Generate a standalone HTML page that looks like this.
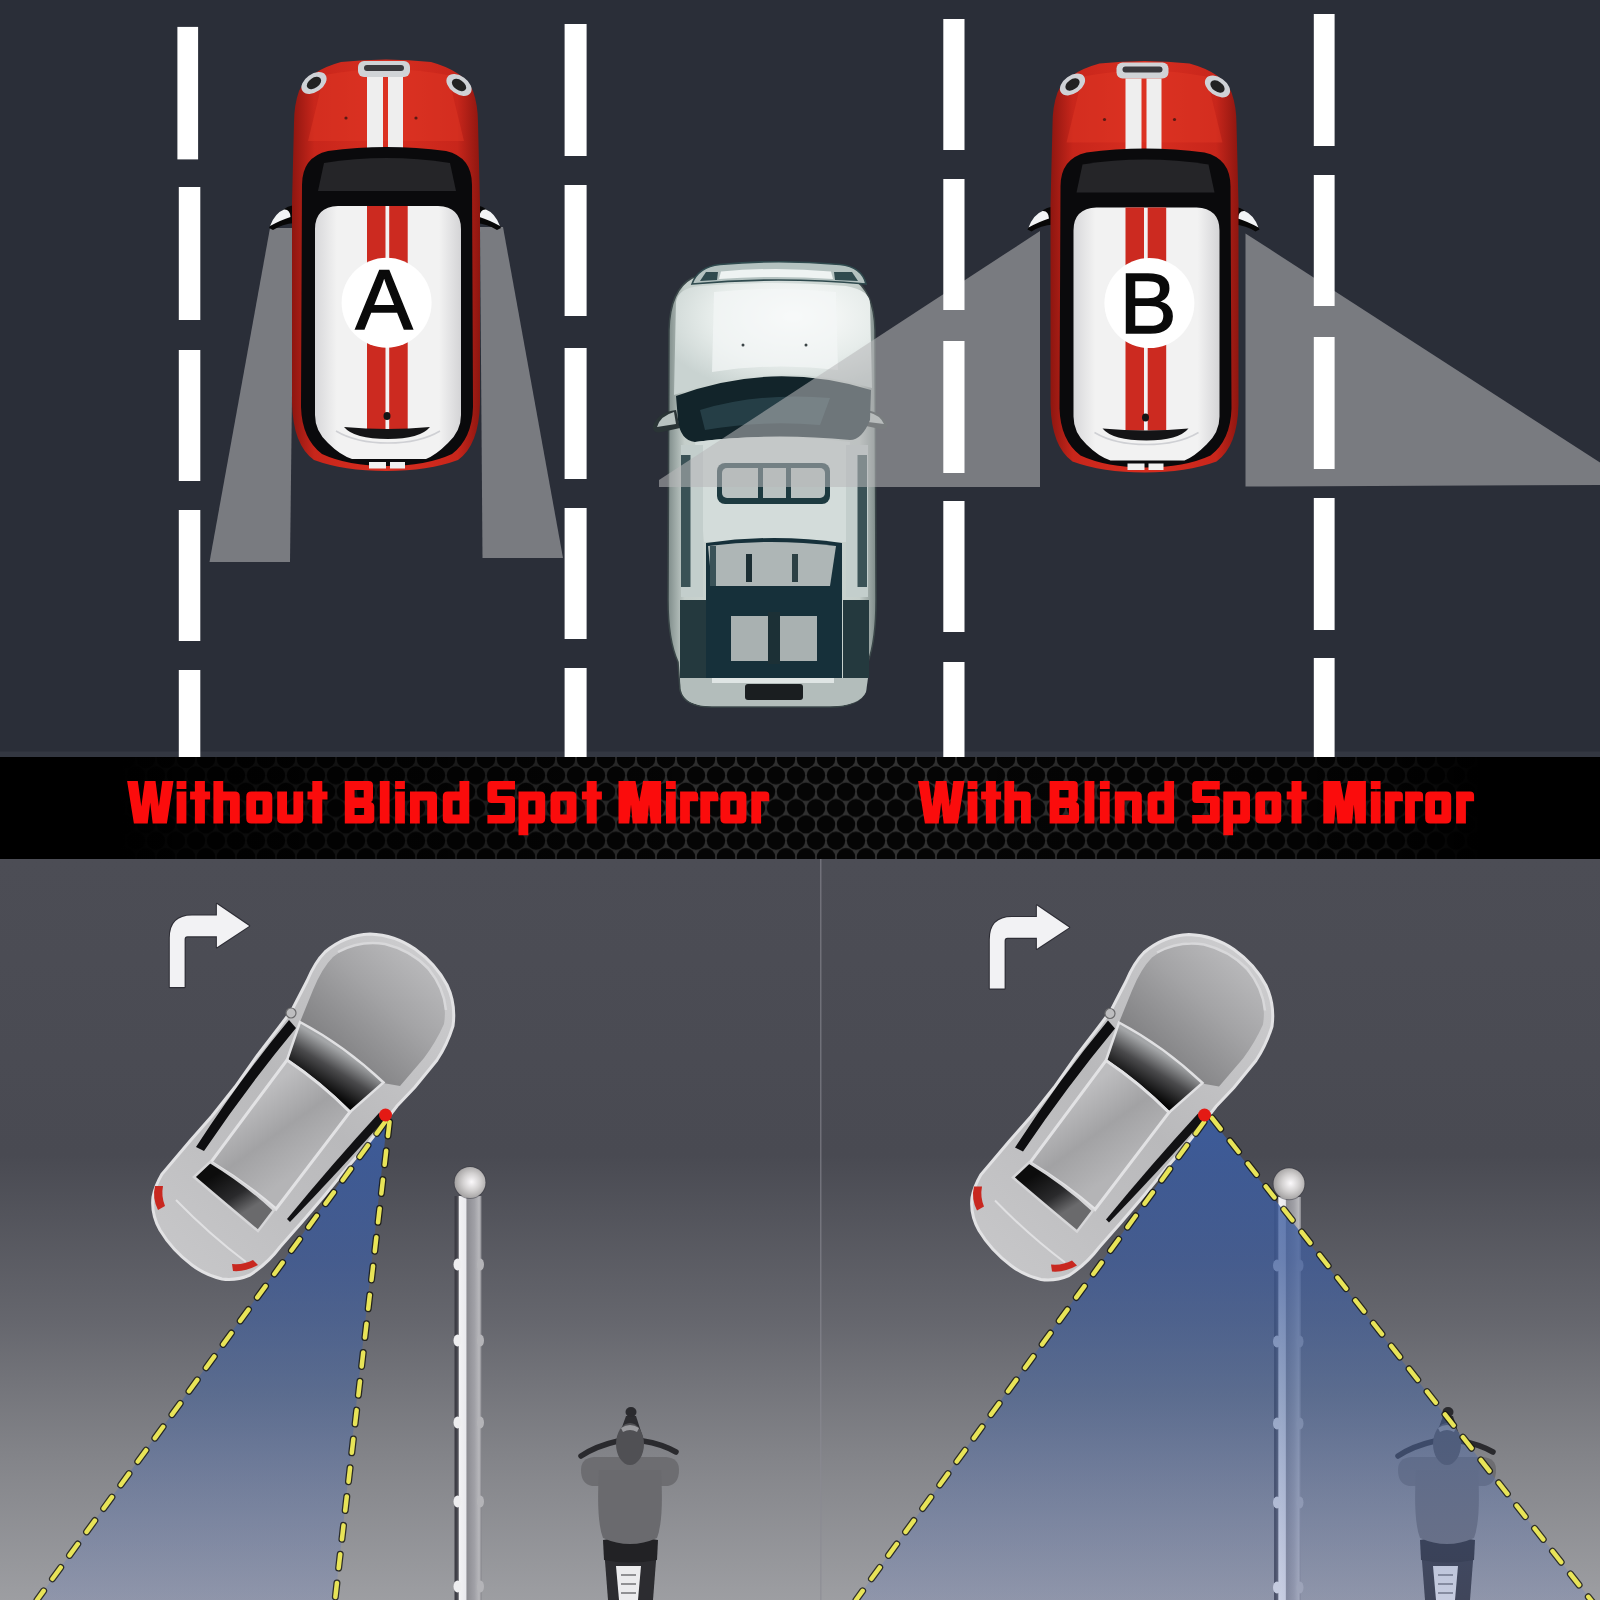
<!DOCTYPE html>
<html><head><meta charset="utf-8"><title>Blind Spot Mirror</title>
<style>
html,body{margin:0;padding:0;background:#2a2e38;width:1600px;height:1600px;overflow:hidden;}
svg{display:block;}
.t{font-family:"Liberation Sans",sans-serif;font-weight:bold;fill:#ff0d0d;}
.l{font-family:"Liberation Sans",sans-serif;}
</style></head><body>
<svg width="1600" height="1600" viewBox="0 0 1600 1600">
<defs>
  <linearGradient id="bg2" x1="0" y1="859" x2="0" y2="1600" gradientUnits="userSpaceOnUse">
    <stop offset="0" stop-color="#4c4d55"/>
    <stop offset="0.40" stop-color="#494a52"/>
    <stop offset="0.62" stop-color="#65666d"/>
    <stop offset="0.80" stop-color="#828388"/>
    <stop offset="1" stop-color="#9d9ea2"/>
  </linearGradient>
  <pattern id="hex" x="-4" y="759" width="20" height="32.7" patternUnits="userSpaceOnUse">
    <rect width="20" height="32.7" fill="#323232"/>
    <circle cx="10" cy="0" r="9.25" fill="#050505"/>
    <circle cx="0" cy="16.35" r="9.25" fill="#050505"/>
    <circle cx="20" cy="16.35" r="9.25" fill="#050505"/>
    <circle cx="10" cy="32.7" r="9.25" fill="#050505"/>
  </pattern>
  <linearGradient id="bfade" x1="0" x2="1600" y1="0" y2="0" gradientUnits="userSpaceOnUse">
    <stop offset="0" stop-color="#000" stop-opacity="1"/>
    <stop offset="0.075" stop-color="#000" stop-opacity="1"/>
    <stop offset="0.14" stop-color="#000" stop-opacity="0.8"/>
    <stop offset="0.28" stop-color="#000" stop-opacity="0.5"/>
    <stop offset="0.42" stop-color="#000" stop-opacity="0.1"/>
    <stop offset="0.56" stop-color="#000" stop-opacity="0.0"/>
    <stop offset="0.75" stop-color="#000" stop-opacity="0.3"/>
    <stop offset="0.86" stop-color="#000" stop-opacity="0.6"/>
    <stop offset="0.925" stop-color="#000" stop-opacity="1"/>
    <stop offset="1" stop-color="#000" stop-opacity="1"/>
  </linearGradient>
  <linearGradient id="fadeL" x1="0" x2="1">
    <stop offset="0" stop-color="#000" stop-opacity="1"/>
    <stop offset="1" stop-color="#000" stop-opacity="0"/>
  </linearGradient>
  <linearGradient id="fadeR" x1="0" x2="1">
    <stop offset="0" stop-color="#000" stop-opacity="0"/>
    <stop offset="1" stop-color="#000" stop-opacity="1"/>
  </linearGradient>

  <linearGradient id="redg" x1="0" x2="1" y1="0" y2="0">
    <stop offset="0" stop-color="#8e1610"/>
    <stop offset="0.12" stop-color="#c8261b"/>
    <stop offset="0.5" stop-color="#d82e20"/>
    <stop offset="0.88" stop-color="#c8261b"/>
    <stop offset="1" stop-color="#8e1610"/>
  </linearGradient>
  <linearGradient id="roofg" x1="0" x2="1" y1="0" y2="0">
    <stop offset="0" stop-color="#d8d8da"/>
    <stop offset="0.15" stop-color="#f2f2f2"/>
    <stop offset="0.85" stop-color="#f2f2f2"/>
    <stop offset="1" stop-color="#d4d4d6"/>
  </linearGradient>
  <g id="mini">
    <!-- mirrors -->
    <g id="mmir">
      <path d="M -91,-98 Q -99,-97 -103,-93 Q -112,-86 -117,-75 L -113,-73 Q -104,-79 -91,-80 Z" fill="#070707"/>
      <path d="M -116,-77 Q -111,-90 -102,-93.5 Q -96,-94 -95.5,-86 Q -105,-83 -116,-77 Z" fill="#f2f4f6"/>
    </g>
    <use href="#mmir" transform="translate(-2,0) scale(-1,1)"/>
    <!-- body -->
    <path d="M -45,-241 Q 0,-246 45,-241 Q 78,-232 87,-212 Q 92,-198 92,-180 L 94,-100 L 94,100 Q 93,142 72,157 Q 42,168 0,168 Q -42,168 -72,157 Q -93,142 -94,100 L -94,-100 L -92,-180 Q -92,-198 -87,-212 Q -78,-232 -45,-241 Z" fill="url(#redg)"/>
    <!-- hood highlight -->
    <path d="M -62,-228 Q 0,-240 62,-228 L 78,-162 L -78,-162 Z" fill="#e03524" opacity="0.5"/>
    <!-- headlights -->
    <ellipse cx="-72" cy="-220" rx="14" ry="9" fill="#cfd2d6" transform="rotate(-35 -72 -220)"/>
    <ellipse cx="-72" cy="-220" rx="8" ry="5" fill="#222" transform="rotate(-35 -72 -220)"/>
    <ellipse cx="73" cy="-218" rx="14" ry="9" fill="#cfd2d6" transform="rotate(35 73 -218)"/>
    <ellipse cx="73" cy="-218" rx="8" ry="5" fill="#222" transform="rotate(35 73 -218)"/>
    <!-- front grille -->
    <rect x="-28" y="-242" width="52" height="16" rx="6" fill="#d0d3d6"/>
    <rect x="-22" y="-238" width="40" height="6" rx="3" fill="#3a3a3e"/>
    <!-- hood stripes -->
    <rect x="-19" y="-226" width="16" height="75" fill="#eeeeee"/>
    <rect x="2" y="-226" width="15" height="75" fill="#eeeeee"/>
    <circle cx="-40" cy="-185" r="1.6" fill="#5a1a14"/>
    <circle cx="30" cy="-185" r="1.6" fill="#5a1a14"/>
    <!-- black glass frame -->
    <path d="M -84,-118 Q -84,-146 -58,-152 Q 0,-160 60,-152 Q 86,-146 86,-118 L 87,104 Q 86,136 66,151 Q 40,163 1,163 Q -38,163 -64,151 Q -84,136 -85,104 Z" fill="#0a0a0c"/>
    <path d="M -62,-140 Q 0,-150 64,-140 L 70,-112 L -68,-112 Z" fill="#252528"/>
    <!-- white roof -->
    <path d="M -71,-74 Q -71,-96 -48,-97 L 52,-97 Q 75,-96 75,-74 L 75,112 Q 75,128 62,140 Q 50,152 40,156 L -34,156 Q -46,152 -58,140 Q -71,128 -71,112 Z" fill="url(#roofg)"/>
    <!-- roof stripes -->
    <rect x="-19" y="-97" width="18.5" height="223" fill="#cc2a20"/>
    <rect x="3.2" y="-97" width="18.5" height="223" fill="#cc2a20"/>
    <!-- rear spoiler arc -->
    <path d="M -42,124 Q 2,128 44,124 Q 34,136 2,136 Q -32,136 -42,124 Z" fill="#141416"/>
    <path d="M -50,128 Q -30,140 2,140 Q 34,140 54,128" fill="none" stroke="#cfd0d4" stroke-width="1.5"/>
    <ellipse cx="1" cy="113" rx="3.5" ry="4" fill="#151515"/>
    <!-- rear white stripe ends -->
    <rect x="-17" y="159" width="17" height="6.5" fill="#f0f0f0"/>
    <rect x="4" y="159" width="15" height="6.5" fill="#f0f0f0"/>
  </g>

  <linearGradient id="bodyg" x1="150" y1="1270" x2="455" y2="935" gradientUnits="userSpaceOnUse">
    <stop offset="0" stop-color="#c8c8ca"/><stop offset="0.5" stop-color="#b9b9bb"/><stop offset="1" stop-color="#cfcfd1"/>
  </linearGradient>
  <linearGradient id="hoodg2" x1="330" y1="1060" x2="420" y2="960" gradientUnits="userSpaceOnUse">
    <stop offset="0" stop-color="#7e7e80"/><stop offset="0.6" stop-color="#a4a4a6"/><stop offset="1" stop-color="#b8b8ba"/>
  </linearGradient>
  <linearGradient id="wsg" x1="320" y1="1088" x2="342" y2="1052" gradientUnits="userSpaceOnUse">
    <stop offset="0" stop-color="#050505"/><stop offset="0.55" stop-color="#4a4a4c"/><stop offset="1" stop-color="#a4a6a8"/>
  </linearGradient>
  <linearGradient id="roofg2" x1="250" y1="1100" x2="300" y2="1170" gradientUnits="userSpaceOnUse">
    <stop offset="0" stop-color="#bdbdbf"/><stop offset="0.5" stop-color="#a2a2a4"/><stop offset="1" stop-color="#b4b4b6"/>
  </linearGradient>
  <linearGradient id="rwg" x1="215" y1="1175" x2="240" y2="1215" gradientUnits="userSpaceOnUse">
    <stop offset="0" stop-color="#0c0c0c"/><stop offset="0.6" stop-color="#2a2a2c"/><stop offset="1" stop-color="#6a6a6c"/>
  </linearGradient>
  <linearGradient id="coneg" x1="0" y1="1114" x2="0" y2="1600" gradientUnits="userSpaceOnUse">
    <stop offset="0" stop-color="#3a5ea6" stop-opacity="0.85"/>
    <stop offset="0.3" stop-color="#3e5c9c" stop-opacity="0.75"/>
    <stop offset="0.58" stop-color="#46649e" stop-opacity="0.55"/>
    <stop offset="1" stop-color="#6e82be" stop-opacity="0.3"/>
  </linearGradient>
  <linearGradient id="poleg" x1="453" x2="483.5" y1="0" y2="0" gradientUnits="userSpaceOnUse">
    <stop offset="0" stop-color="#3c3c44"/><stop offset="0.1" stop-color="#3c3c44"/><stop offset="0.17" stop-color="#55555c"/><stop offset="0.21" stop-color="#f2f2f4"/><stop offset="0.42" stop-color="#eaeaee"/><stop offset="0.46" stop-color="#8c8c92"/><stop offset="0.7" stop-color="#a0a0a6"/><stop offset="0.86" stop-color="#b8b8bc"/><stop offset="1" stop-color="#5a5a62"/>
  </linearGradient>
  <radialGradient id="ballg" cx="0.55" cy="0.48" r="0.6">
    <stop offset="0" stop-color="#fbf9fb"/><stop offset="0.45" stop-color="#d4d2d2"/><stop offset="1" stop-color="#9a9898"/>
  </radialGradient>
  <g id="bcar">
    <!-- outer body -->
    <path d="M 325,952 Q 345,935 370,934 Q 395,935 415,949 Q 436,964 447,985 Q 456,1004 453,1026 Q 447,1045 437,1060 L 415,1087 L 397,1106 L 370,1141 L 347,1168 L 325,1195 L 302,1222 L 280,1247 Q 268,1263 250,1275 Q 236,1281 222,1279 Q 205,1275 192,1265 Q 172,1250 160,1230 Q 151,1214 153,1197 Q 155,1186 162,1174 L 190,1141 L 212,1116 L 235,1087 L 257,1056 L 280,1026 L 292,1010 L 307,981 Q 315,962 325,952 Z" fill="url(#bodyg)" stroke="#e2e2e4" stroke-width="3"/>
    <!-- hood -->
    <path d="M 333,957 Q 350,943 371,942 Q 394,943 412,956 Q 430,969 440,988 Q 447,1005 444,1024 Q 436,1042 424,1058 L 400,1086 L 383,1083 Q 345,1048 300,1022 L 313,990 Q 322,968 333,957 Z" fill="url(#hoodg2)"/>
    <path d="M 338,952 Q 360,940 385,944 Q 410,950 428,968 Q 444,988 446,1010" fill="none" stroke="#d8d8da" stroke-width="2.5"/>
    <!-- side windows -->
    <path d="M 289,1020 Q 240,1079 196,1147 L 204,1151 Q 248,1086 296,1028 Z" fill="#0e0e10"/>
    <path d="M 379,1113 Q 333,1163 287,1219 L 290,1222 Q 340,1170 386,1118 Z" fill="#121214"/>
    <!-- windshield -->
    <path d="M 300,1022 Q 345,1046 383.5,1082.5 L 350,1112 Q 320,1082 287,1060 Z" fill="url(#wsg)" stroke="#e0e0e2" stroke-width="2.5"/>
    <!-- roof -->
    <path d="M 287,1060 Q 320,1082 350,1112 L 276,1209 Q 246,1183 211,1162 Z" fill="url(#roofg2)" stroke="#e2e2e4" stroke-width="3"/>
    <!-- rear window -->
    <path d="M 210,1162 Q 246,1184 274,1210 L 258,1231 Q 228,1206 194,1177 Z" fill="url(#rwg)" stroke="#d6d6d8" stroke-width="2.5"/>
    <!-- trunk highlight -->
    <path d="M 176,1200 Q 210,1235 246,1262" fill="none" stroke="#e0e0e2" stroke-width="2"/>
    <!-- tail lights -->
    <path d="M 155,1186 Q 152,1198 158,1210 L 165,1206 Q 161,1196 163,1186 Z" fill="#c82820"/>
    <path d="M 233,1271 Q 246,1272 258,1265 L 253,1260 Q 244,1265 232,1264 Z" fill="#c82820"/>
    <!-- mirrors -->
    <circle cx="291" cy="1013" r="5" fill="#bdbdbf" stroke="#6a6a6c" stroke-width="1.2"/>
      </g>
  <g id="arrow">
    <path d="M 169.8,987.1 L 169.8,938 Q 169.8,915.6 192,915.6 L 216.9,915.6 L 216.9,903.9 L 249.2,925.9 L 216.9,947.3 L 216.9,936.3 L 187.5,936.3 Q 184.6,936.3 184.6,939.5 L 184.6,987.1 Z" fill="#f2f2f4" stroke="#2e2e36" stroke-width="2.2" stroke-linejoin="round" paint-order="stroke"/>
  </g>
  <g id="pole">
    <rect x="454.5" y="1196" width="27" height="406" fill="url(#poleg)"/>
    <g><ellipse cx="457.5" cy="1264.5" rx="4" ry="6" fill="#eeeef0"/><ellipse cx="480.5" cy="1264.5" rx="3.5" ry="6" fill="#b4b4b8"/><ellipse cx="457.5" cy="1340.5" rx="4" ry="6" fill="#eeeef0"/><ellipse cx="480.5" cy="1340.5" rx="3.5" ry="6" fill="#b4b4b8"/><ellipse cx="457.5" cy="1422.5" rx="4" ry="6" fill="#eeeef0"/><ellipse cx="480.5" cy="1422.5" rx="3.5" ry="6" fill="#b4b4b8"/><ellipse cx="457.5" cy="1501.5" rx="4" ry="6" fill="#eeeef0"/><ellipse cx="480.5" cy="1501.5" rx="3.5" ry="6" fill="#b4b4b8"/><ellipse cx="457.5" cy="1586.5" rx="4" ry="6" fill="#eeeef0"/><ellipse cx="480.5" cy="1586.5" rx="3.5" ry="6" fill="#b4b4b8"/></g>
  </g>
  <g id="ball">
    <circle cx="470" cy="1182.5" r="16.5" fill="#3c3c44" opacity="0.5"/>
    <circle cx="470" cy="1182.5" r="15.5" fill="url(#ballg)"/>
  </g>
  <g id="rider">
    <!-- bike rear -->
    <path d="M 604,1548 L 657,1548 L 653,1600 L 608,1600 Z" fill="#2c2c30"/>
    <path d="M 616,1566 L 641,1566 L 638,1600 L 619,1600 Z" fill="#ececee"/>
    <g stroke="#6a6a6e" stroke-width="1.4"><line x1="621" y1="1575" x2="636" y2="1575"/><line x1="621" y1="1584" x2="636" y2="1584"/><line x1="621" y1="1593" x2="636" y2="1593"/></g>
    <path d="M 603,1540 Q 630,1534 658,1540 L 657,1560 Q 630,1565 604,1560 Z" fill="#222225"/>
    <!-- front fork & handlebars -->
    <path d="M 626,1416 L 616,1444 L 645,1444 L 636,1416 Z" fill="#2c2c30"/>
    <ellipse cx="631" cy="1412" rx="5.5" ry="5" fill="#2a2a2e"/>
    <path d="M 581,1456 Q 596,1446 618,1441" fill="none" stroke="#2a2a2e" stroke-width="5.5" stroke-linecap="round"/>
    <path d="M 643,1441 Q 662,1444 676,1452" fill="none" stroke="#2a2a2e" stroke-width="5.5" stroke-linecap="round"/>
    <!-- shoulders/arms -->
    <path d="M 581,1470 Q 581,1458 594,1457 L 666,1457 Q 679,1458 679,1470 Q 679,1484 668,1486 L 592,1486 Q 581,1484 581,1470 Z" fill="#6d6d71"/>
    <!-- torso -->
    <path d="M 599,1470 L 661,1470 Q 664,1520 657,1538 Q 630,1550 603,1538 Q 596,1520 599,1470 Z" fill="#6a6a6e"/>
    <!-- helmet -->
    <ellipse cx="630" cy="1444" rx="14" ry="21" fill="#505054"/>
    <path d="M 621,1428 Q 630,1422 639,1428 L 637,1432 Q 630,1428 623,1432 Z" fill="#9a9a9e"/>
  </g>
<path id="gW" d="M0,-42.5 H10.7 L14.2,-17 L17.7,-42.5 H28.4 L31.8,-17 L35.2,-42.5 H46.4 L39.8,0 H25.6 L23.1,-21 L20.6,0 H6.8 Z"/>
<path id="gi" d="M0,-42.5 H9.8 V-34.5 H0 Z M0,-32 H9.8 V0 H0 Z"/>
<path id="gl" d="M0,-42.5 H9.8 V0 H0 Z"/>
<path id="gt" d="M4.8,-42.5 H14.8 V-32 H20 V-24 H14.8 V0 H4.8 V-24 H0 V-32 H4.8 Z"/>
<path id="gh" d="M0,0 V-42.5 H9.8 V-32 H21.4 Q26.4,-32 26.4,-27 V0 H16.6 V-23 H9.8 V0 Z"/>
<path id="go" fill-rule="evenodd" d="M5,-32 H21 Q26,-32 26,-27 V-5 Q26,0 21,0 H5 Q0,0 0,-5 V-27 Q0,-32 5,-32 Z M9.8,-23 V-9 H16.2 V-23 Z"/>
<path id="gu" d="M0,-32 H9.8 V-9 H16.2 V-32 H26 V-5 Q26,0 21,0 H5 Q0,0 0,-5 Z"/>
<path id="gn" d="M0,0 V-32 H22 Q27,-32 27,-27 V0 H17.2 V-23 H9.8 V0 Z"/>
<path id="gd" fill-rule="evenodd" d="M5,0 H26.5 V-42.5 H16.7 V-32 H5 Q0,-32 0,-27 V-5 Q0,0 5,0 Z M9.8,-23 H16.7 V-9 H9.8 Z"/>
<path id="gp" fill-rule="evenodd" d="M0,11.7 V-32 H21.7 Q26.7,-32 26.7,-27 V-5 Q26.7,0 21.7,0 H9.8 V11.7 Z M9.8,-23 H16.9 V-9 H9.8 Z"/>
<path id="gB" fill-rule="evenodd" d="M0,0 V-42.5 H24 Q28.2,-42.5 28.2,-38.3 V-25.5 Q28.2,-22.5 26,-21.5 Q29.5,-20.5 29.5,-17 V-4.2 Q29.5,0 25.3,0 Z M9.8,-33.4 V-26 H18.9 V-33.4 Z M9.8,-15.5 V-8.5 H19.3 V-15.5 Z"/>
<path id="gS" d="M4,-42.5 H27.6 V-34 H9.8 V-27.5 H23.6 Q27.6,-27.5 27.6,-23.5 V-4 Q27.6,0 23.6,0 H0 V-8.5 H17.8 V-20.5 H4 Q0,-20.5 0,-24.5 V-38.5 Q0,-42.5 4,-42.5 Z"/>
<path id="gM" d="M0,-42.5 H17 L20.8,-22 L24.6,-42.5 H42.6 V0 H32.2 L30.5,-19 L28.8,0 H14.2 L12.5,-19 L10.8,0 H0 Z"/>
<path id="gr" d="M0,0 V-32 H14 Q18,-32 18,-28 V-22.2 H9.8 V0 Z"/>
</defs>

<!-- ============ TOP ROAD ============ -->
<rect x="0" y="0" width="1600" height="757" fill="#2a2e38"/>
<rect x="0" y="751.5" width="1600" height="5.5" fill="#363a43" opacity="0.8"/>


<!-- VAN -->
<g id="van">
  <linearGradient id="vanside" x1="0" x2="1">
    <stop offset="0" stop-color="#7f8c8a"/><stop offset="0.08" stop-color="#c4ceca"/><stop offset="0.5" stop-color="#d8e0de"/><stop offset="0.92" stop-color="#c4ceca"/><stop offset="1" stop-color="#7f8c8a"/>
  </linearGradient>
  <radialGradient id="hoodg" cx="0.6" cy="0.3" r="0.7">
    <stop offset="0" stop-color="#ffffff"/><stop offset="0.6" stop-color="#e6ecea"/><stop offset="1" stop-color="#c9d3d1"/>
  </radialGradient>
  <!-- body -->
  <path d="M 692,278 Q 770,256 852,278 Q 874,290 875,330 L 876,600 Q 876,640 868,662 L 866,690 Q 860,707 830,707 L 712,707 Q 684,707 680,690 L 678,662 Q 668,640 668,600 L 669,330 Q 670,290 692,278 Z" fill="url(#vanside)" stroke="#3a4648" stroke-width="1.5"/>
  <!-- mirrors -->
  <path d="M 676,410 Q 658,412 653,426 Q 652,434 662,432 L 680,428 Z" fill="#2a3436"/>
  <path d="M 674,412 Q 660,416 657,427 L 676,424 Z" fill="#b8c2c0"/>
  <path d="M 866,410 Q 882,412 887,424 Q 888,430 880,429 L 866,426 Z" fill="#2a3436"/>
  <path d="M 868,412 Q 880,415 884,424 L 868,422 Z" fill="#b8c2c0"/>
  <!-- front bumper -->
  <path d="M 692,284 Q 698,267 720,264.5 Q 778,259 840,264.5 Q 862,267 866,284 Q 778,276 692,284 Z" fill="#b4c2c0" stroke="#2f4a4e" stroke-width="1.6"/>
  <path d="M 719,279 L 721,271.5 Q 776,266.5 831,271.5 L 833,279 Q 776,275 719,279 Z" fill="#eef3f2"/>
  <path d="M 700,281 L 706,272 L 718,272 L 717,280 Z" fill="#2f4a4e"/>
  <path d="M 858,281 L 852,272 L 834,272 L 835,280 Z" fill="#2f4a4e"/>
  <!-- hood -->
  <path d="M 676,302 Q 678,288 700,286 Q 770,280 846,286 Q 870,290 870,304 L 872,388 Q 772,358 674,395 Z" fill="url(#hoodg)"/>
  <path d="M 714,292 Q 775,286 836,292 L 838,370 Q 775,362 712,372 Z" fill="#f4f7f6" opacity="0.7"/>
  <circle cx="743" cy="345" r="1.5" fill="#3a4446"/>
  <circle cx="806" cy="345" r="1.5" fill="#3a4446"/>
  <!-- windshield -->
  <path d="M 676,396 Q 772,360 871,390 L 870,420 Q 862,440 850,440 Q 770,432 695,442 Q 680,440 678,420 Z" fill="#12242a"/>
  <path d="M 700,410 Q 760,392 830,398 L 820,425 Q 760,420 705,430 Z" fill="#2e4a52" opacity="0.7"/>
  <!-- roof -->
  <path d="M 695,442 Q 770,432 850,442 L 846,542 L 704,542 Z" fill="#d3dcda"/>
  <rect x="717" y="463" width="113" height="41" rx="8" fill="#1d3a40"/>
  <rect x="722" y="468" width="103" height="30" rx="5" fill="#b9c1c0"/>
  <rect x="758" y="466" width="5" height="34" fill="#1d3a40"/>
  <rect x="786" y="466" width="5" height="34" fill="#1d3a40"/>
  <!-- side strips -->
  <rect x="681" y="445" width="22" height="152" fill="#c3cecc"/>
  <rect x="681" y="455" width="9.5" height="132" fill="#3a5256"/>
  <rect x="846" y="445" width="22" height="152" fill="#c3cecc"/>
  <rect x="857.5" y="455" width="9.5" height="132" fill="#3a5256"/>
  <rect x="680" y="600" width="26" height="78" fill="#24393e"/>
  <rect x="843" y="600" width="26" height="78" fill="#24393e"/>
  <!-- rear glass -->
  <path d="M 706,543 Q 774,533 842,543 L 842,678 L 706,678 Z" fill="#16303a"/>
  <path d="M 708,546 Q 770,538 836,546 L 830,586 L 712,586 Z" fill="#aeb6b6"/>
  <rect x="710" y="546" width="6" height="40" fill="#3a5258"/>
  <rect x="746" y="554" width="6" height="28" fill="#1c2e34"/>
  <rect x="792" y="554" width="6" height="28" fill="#2c4044"/>
  <rect x="731" y="616" width="86" height="45" fill="#a9b1b1"/>
  <rect x="768" y="612" width="12" height="52" fill="#1c3036"/>

  <!-- rear bumper -->
  <path d="M 680,678 L 868,678 L 866,692 Q 860,706 830,706 L 712,706 Q 686,706 682,692 Z" fill="#b3bdbb"/>
  <rect x="712" y="678" width="122" height="5" fill="#dfe5e4"/>
  <rect x="745" y="684" width="58" height="16" rx="3" fill="#1a1e20"/>
</g>

<!-- cones (gray view areas) -->
<g fill="#b8b8ba" fill-opacity="0.56">
  <polygon points="270,228 294,228 290,562 209.5,562"/>
  <polygon points="480,227 503,227 563,558 482.5,558"/>
  <polygon points="1040,231 1040,487 659,487 659,480"/>
  <polygon points="1245.5,233.5 1600,462.5 1600,485 1245.5,486.5"/>
</g>

<!-- lane dashes -->
<g fill="#ffffff">
  <rect x="177.4" y="26.9" width="20.7" height="132.5"/>
  <rect x="178.8" y="187" width="21.5" height="133"/>
  <rect x="178.8" y="350" width="21.5" height="131"/>
  <rect x="178.8" y="510" width="21.5" height="131"/>
  <rect x="178.8" y="670" width="21.5" height="87"/>

  <rect x="564.6" y="24" width="22" height="132"/>
  <rect x="564.6" y="185" width="22" height="131"/>
  <rect x="564.6" y="348" width="22" height="131"/>
  <rect x="564.6" y="508" width="22" height="131"/>
  <rect x="564.6" y="668" width="22" height="89"/>

  <rect x="943.3" y="19" width="21.2" height="131"/>
  <rect x="943.3" y="179" width="21.2" height="131"/>
  <rect x="943.3" y="341" width="21.2" height="132"/>
  <rect x="943.3" y="501" width="21.2" height="131"/>
  <rect x="943.3" y="662" width="21.2" height="95"/>

  <rect x="1313.8" y="14" width="20.8" height="132"/>
  <rect x="1313.8" y="175" width="20.8" height="131"/>
  <rect x="1313.8" y="337" width="20.8" height="132"/>
  <rect x="1313.8" y="498" width="20.8" height="132"/>
  <rect x="1313.8" y="658" width="20.8" height="99"/>
</g>


<use href="#mini" transform="translate(386,303)"/>
<circle cx="386.6" cy="302.8" r="45" fill="#ffffff"/>
<text class="l" x="384.1" y="328.75" font-size="85.7" text-anchor="middle" fill="#0a0a0a" stroke="#0a0a0a" stroke-width="1.5">A</text>
<use href="#mini" transform="translate(1144.5,304.5)"/>
<circle cx="1149.4" cy="303.1" r="45" fill="#ffffff"/>
<text class="l" x="1148.2" y="333.1" font-size="85.7" text-anchor="middle" fill="#0a0a0a" stroke="#0a0a0a" stroke-width="1.5">B</text>


<!-- ============ BANNER ============ -->
<rect x="0" y="757" width="1600" height="102" fill="url(#hex)"/>
<rect x="0" y="757" width="1600" height="102" fill="url(#bfade)"/>
<g id="ttl" fill="#fb0c0c" fill-rule="evenodd">
<use href="#gW" x="127.1" y="823.5"/>
<use href="#gi" x="176.6" y="823.5"/>
<use href="#gt" x="190.1" y="823.5"/>
<use href="#gh" x="213.4" y="823.5"/>
<use href="#go" x="246.3" y="823.5"/>
<use href="#gu" x="277.2" y="823.5"/>
<use href="#gt" x="307.5" y="823.5"/>
<use href="#gB" x="344.8" y="823.5"/>
<use href="#gl" x="379.8" y="823.5"/>
<use href="#gi" x="395.1" y="823.5"/>
<use href="#gn" x="410.0" y="823.5"/>
<use href="#gd" x="442.8" y="823.5"/>
<use href="#gS" x="487.4" y="823.5"/>
<use href="#gp" x="518.5" y="823.5"/>
<use href="#go" x="550.5" y="823.5"/>
<use href="#gt" x="581.9" y="823.5"/>
<use href="#gM" x="618.5" y="823.5"/>
<use href="#gi" x="666.0" y="823.5"/>
<use href="#gr" x="680.1" y="823.5"/>
<use href="#gr" x="700.3" y="823.5"/>
<use href="#go" x="720.4" y="823.5"/>
<use href="#gr" x="751.3" y="823.5"/>
<use href="#gW" x="918.1" y="823.5"/>
<use href="#gi" x="967.6" y="823.5"/>
<use href="#gt" x="981.1" y="823.5"/>
<use href="#gh" x="1004.4" y="823.5"/>
<use href="#gB" x="1049.6" y="823.5"/>
<use href="#gl" x="1084.6" y="823.5"/>
<use href="#gi" x="1099.9" y="823.5"/>
<use href="#gn" x="1114.8" y="823.5"/>
<use href="#gd" x="1147.6" y="823.5"/>
<use href="#gS" x="1192.2" y="823.5"/>
<use href="#gp" x="1223.3" y="823.5"/>
<use href="#go" x="1255.3" y="823.5"/>
<use href="#gt" x="1286.7" y="823.5"/>
<use href="#gM" x="1323.3" y="823.5"/>
<use href="#gi" x="1370.8" y="823.5"/>
<use href="#gr" x="1384.9" y="823.5"/>
<use href="#gr" x="1405.1" y="823.5"/>
<use href="#go" x="1425.2" y="823.5"/>
<use href="#gr" x="1456.1" y="823.5"/>
</g>

<!-- ============ BOTTOM ============ -->
<rect x="0" y="859" width="1600" height="741" fill="url(#bg2)"/>
<rect x="820" y="859" width="1.5" height="741" fill="#8a8b92" opacity="0.6"/>


<!-- left panel -->
<use href="#pole"/>
<use href="#rider"/>
<use href="#pole" transform="translate(819.5,1)"/>
<use href="#rider" transform="translate(817,0)"/>
<polygon points="387.5,1117 37,1600 335,1600" fill="url(#coneg)"/>
<polygon points="1208,1115 856,1600 1591,1600" fill="url(#coneg)"/>
<use href="#ball"/>
<use href="#ball" transform="translate(819,1.3)"/>
<use href="#bcar"/>
<use href="#bcar" transform="translate(819,0.5)"/>
<!-- dashed lines -->
<g fill="none" stroke-linecap="round">
  <g stroke="#15150c" stroke-width="7" stroke-dasharray="14 15" opacity="0.8">
    <line x1="385" y1="1122" x2="37" y2="1600"/><line x1="389.5" y1="1122" x2="335" y2="1600"/>
    <line x1="1204" y1="1122" x2="856" y2="1600"/><line x1="1212" y1="1118" x2="1594" y2="1604"/>
  </g>
  <g stroke="#e8e458" stroke-width="4.5" stroke-dasharray="14 15">
    <line x1="385" y1="1122" x2="37" y2="1600"/><line x1="389.5" y1="1122" x2="335" y2="1600"/>
    <line x1="1204" y1="1122" x2="856" y2="1600"/><line x1="1212" y1="1118" x2="1594" y2="1604"/>
  </g>
</g>
<circle cx="385.5" cy="1115" r="6.5" fill="#e41a14"/>
<circle cx="1204.5" cy="1115" r="6.5" fill="#e41a14"/>
<use href="#arrow"/>
<use href="#arrow" transform="translate(820,1.5)"/>


</svg>
</body></html>
